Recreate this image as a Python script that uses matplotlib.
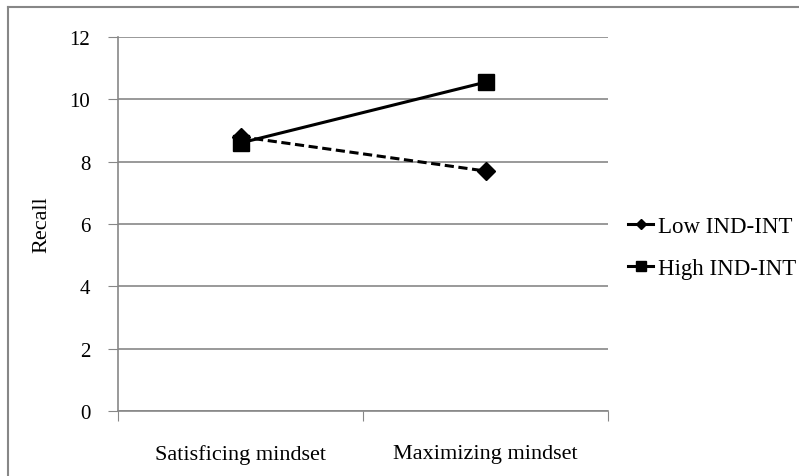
import matplotlib.pyplot as plt
from matplotlib.lines import Line2D

categories = ['Satisficing mindset', 'Maximizing mindset']
low_ind_int = [8.8, 7.7]
high_ind_int = [8.6, 10.55]
y_ticks = [0, 2, 4, 6, 8, 10, 12]

plt.rcParams['font.family'] = ['Liberation Serif', 'DejaVu Serif']

W, H = 799, 477
fig = plt.figure(figsize=(W / 100, H / 100), dpi=100)
ax = fig.add_axes([118 / W, (H - 412) / H, 490 / W, 374 / H])

grid_col = '#878787'
x = [0.5, 1.5]

ax.plot(x, low_ind_int, color='black', lw=2.2, ls=(0, (3, 1.5)),
        marker='D', ms=9.5, label='Low IND-INT')
ax.plot(x, high_ind_int, color='black', lw=2.2, ls='-',
        marker='s', ms=11, label='High IND-INT')

ax.set_xlim(0, 2)
ax.set_ylim(0, 12)
ax.set_yticks(y_ticks)
ax.set_yticklabels([str(v) for v in y_ticks], fontsize=15)
ax.set_xticks([0, 1, 2])
ax.set_xticklabels([])
ax.set_xticks(x, minor=True)
ax.set_xticklabels(categories, minor=True, fontsize=16)
ax.tick_params(axis='x', which='minor', length=0, pad=24)
ax.tick_params(axis='x', which='major', length=7, color=grid_col, direction='out')
ax.tick_params(axis='y', length=7, color=grid_col, direction='out', pad=13)

ax.yaxis.grid(True, color=grid_col, lw=1.2)
ax.set_axisbelow(True)
for side in ['top', 'right']:
    ax.spines[side].set_visible(False)
for side in ['left', 'bottom']:
    ax.spines[side].set_color(grid_col)
    ax.spines[side].set_linewidth(1.2)

fig.text(42 / W, (H - 225) / H, 'Recall', rotation=90, fontsize=16,
         ha='center', va='center')

handles = [
    Line2D([], [], color='black', lw=2.2, marker='D', ms=5.5),
    Line2D([], [], color='black', lw=2.2, marker='s', ms=6.5),
]
fig.legend(handles, ['Low IND-INT', 'High IND-INT'], loc='upper left',
           bbox_to_anchor=(628 / W, (H - 217) / H), frameon=False,
           fontsize=16.5, handlelength=1.1, handletextpad=0.2, labelspacing=0.9,
           borderpad=0, borderaxespad=0)

# outer chart frame (top and left edges visible)
fig.add_artist(Line2D([8 / W, 1], [(H - 8) / H] * 2, color=grid_col, lw=1.5,
                      transform=fig.transFigure))
fig.add_artist(Line2D([8 / W] * 2, [0, (H - 8) / H], color=grid_col, lw=1.5,
                      transform=fig.transFigure))

fig.savefig('out.png', dpi=100)
